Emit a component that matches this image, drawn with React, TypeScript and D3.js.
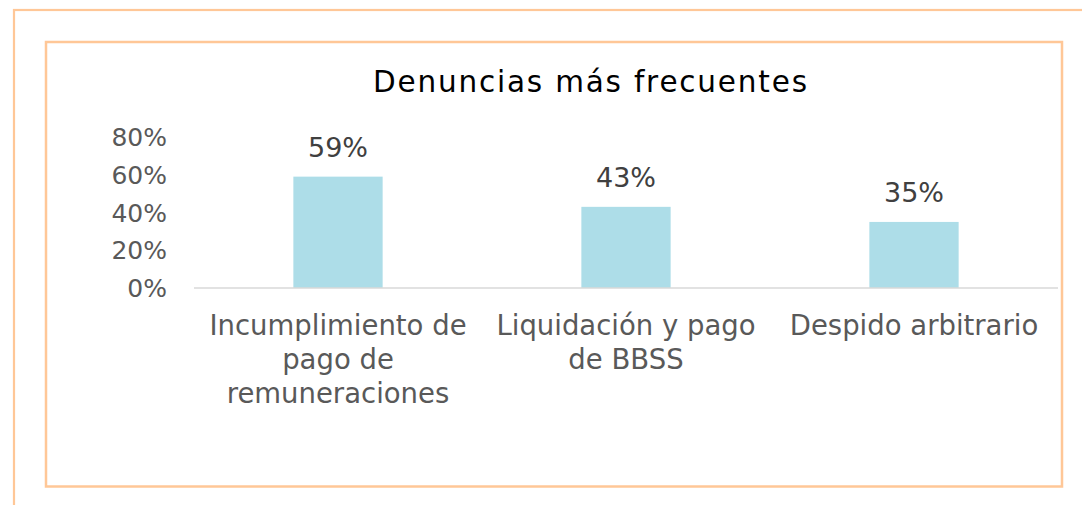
import React from "react";
import * as d3 from "d3";

const categories: string[][] = [
  ["Incumplimiento de", "pago de", "remuneraciones"],
  ["Liquidación y pago", "de BBSS"],
  ["Despido arbitrario"],
];
const values: number[] = [0.59, 0.43, 0.35];
const yTicks: number[] = [0, 0.2, 0.4, 0.6, 0.8];
const title = "Denuncias más frecuentes";

const W = 1082;
const H = 505;
const FONT = "'DejaVu Sans', sans-serif";
const BORDER = "#FFC797";

export default function App() {
  const x = d3
    .scaleBand<number>()
    .domain(values.map((_, i) => i))
    .range([194, 1058])
    .paddingInner(0.69)
    .paddingOuter(0.345);
  const y = d3.scaleLinear().domain([0, 0.8]).range([288, 137]);
  const fmt = d3.format(".0%");

  return (
    <svg
      width={W}
      height={H}
      style={{ position: "absolute", left: 0, top: 0, background: "#fff" }}
      fontFamily={FONT}
    >
      <rect x={0} y={0} width={W} height={H} fill="#fff" />
      <rect x={14} y={10} width={1200} height={700} fill="none" stroke={BORDER} strokeWidth={2.2} />
      <rect x={46} y={42} width={1016} height={444.5} fill="none" stroke={BORDER} strokeWidth={2.5} />

      <text
        x={590}
        y={92}
        textAnchor="middle"
        fontSize={29.5}
        fill="#000"
        textLength={434}
        lengthAdjust="spacing"
      >
        {title}
      </text>

      {yTicks.map((t) => (
        <text
          key={t}
          x={167}
          y={y(t)}
          dy="0.36em"
          textAnchor="end"
          fontSize={25}
          fill="#595959"
        >
          {fmt(t)}
        </text>
      ))}

      {values.map((v, i) => (
        <rect
          key={i}
          x={x(i)}
          y={y(v)}
          width={x.bandwidth()}
          height={y(0) - y(v)}
          fill="#ADDDE8"
        />
      ))}

      <line x1={194} x2={1058} y1={y(0)} y2={y(0)} stroke="#D9D9D9" strokeWidth={1.6} />

      {values.map((v, i) => (
        <text
          key={"l" + i}
          x={(x(i) as number) + x.bandwidth() / 2}
          y={y(v) - 20}
          textAnchor="middle"
          fontSize={27}
          fill="#404040"
        >
          {fmt(v)}
        </text>
      ))}

      {categories.map((lines, i) =>
        lines.map((ln, j) => (
          <text
            key={"c" + i + "-" + j}
            x={(x(i) as number) + x.bandwidth() / 2}
            y={335 + j * 34}
            textAnchor="middle"
            fontSize={27.5}
            fill="#595959"
          >
            {ln}
          </text>
        ))
      )}
    </svg>
  );
}
